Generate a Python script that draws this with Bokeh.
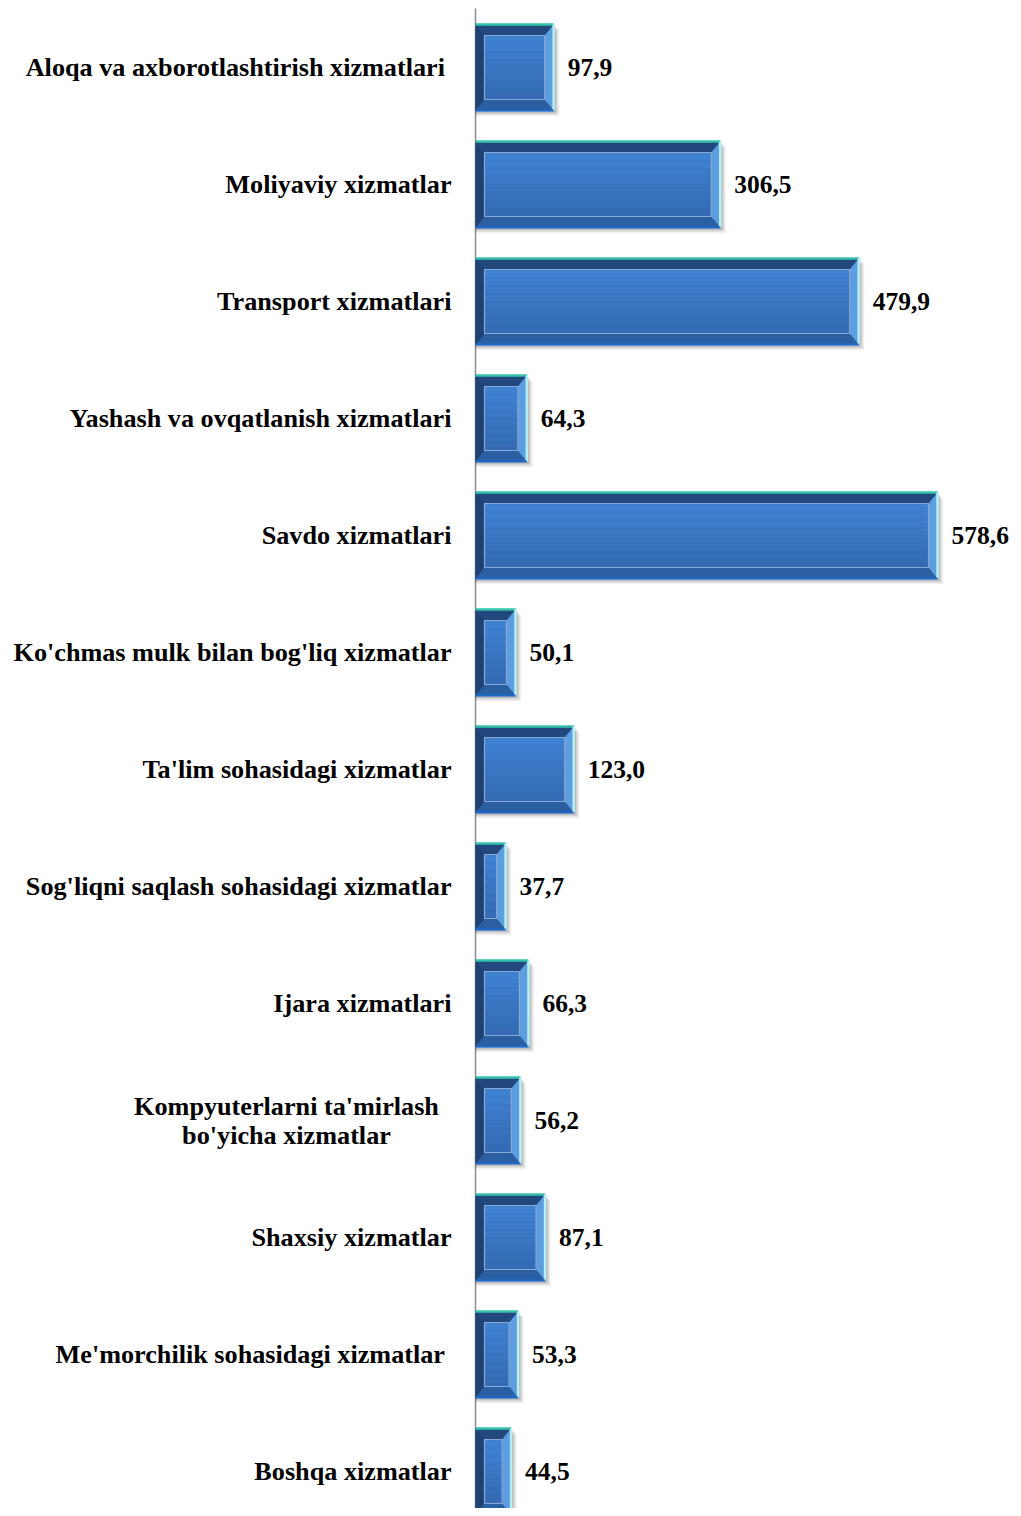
from bokeh.plotting import figure
from bokeh.models import Range1d, ColumnDataSource
from bokeh.core.properties import value
from bokeh.embed import file_html
from bokeh.resources import INLINE

categories = [
    "Aloqa va axborotlashtirish xizmatlari ",
    "Moliyaviy xizmatlar",
    "Transport xizmatlari",
    "Yashash va ovqatlanish xizmatlari",
    "Savdo xizmatlari",
    "Ko'chmas mulk bilan bog'liq xizmatlar",
    "Ta'lim sohasidagi xizmatlar",
    "Sog'liqni saqlash sohasidagi xizmatlar",
    "Ijara xizmatlari",
    "Kompyuterlarni ta'mirlash\nbo'yicha xizmatlar",
    "Shaxsiy xizmatlar",
    "Me'morchilik sohasidagi xizmatlar ",
    "Boshqa xizmatlar",
]
values = [97.9, 306.5, 479.9, 64.3, 578.6, 50.1, 123.0, 37.7, 66.3, 56.2, 87.1, 53.3, 44.5]
value_labels = ["97,9", "306,5", "479,9", "64,3", "578,6", "50,1", "123,0", "37,7", "66,3", "56,2", "87,1", "53,3", "44,5"]

# ---- layout / style ----
W, H = 1013, 1508
PX_X = 0.7985          # pixels per data unit (x)
PX_Y = 117.0           # pixels per category row
AXIS_PX = 475
TOP_PX = 67
BAR_H = 0.735
IX = 9 / PX_X          # bevel inset (x, data units)
IY = 11 / PX_Y         # bevel inset (y, data units)
FONT = value("Liberation Serif")
FS = "26.2px"
FS_VAL = "25.5px"
FACE_SHADES = ["#3e81d1", "#3d7ecd", "#3c7bc9", "#3a78c5", "#3975c1", "#3872bd", "#366fb9", "#356cb5"]

n = len(categories)
ys = list(range(n))

p = figure(width=W, height=H, output_backend="svg", toolbar_location=None,
           x_range=Range1d(-AXIS_PX / PX_X, (W - AXIS_PX) / PX_X),
           y_range=Range1d((H - TOP_PX) / PX_Y, -TOP_PX / PX_Y),
           min_border=0, outline_line_color=None)
p.xaxis.visible = False
p.yaxis.visible = False
p.xgrid.visible = False
p.ygrid.visible = False

# axis line
p.segment(x0=[0], x1=[0], y0=[-TOP_PX / PX_Y + 8 / PX_Y], y1=[(H - TOP_PX) / PX_Y],
          line_color="#8c8c8c", line_width=1.5)

# shadows
for k, a in [(1, 0.10), (2, 0.08), (3, 0.06), (4, 0.05), (5, 0.03)]:
    dx = (1 + k) / PX_X
    dy = (1 + k) / PX_Y
    p.quad(left=[0] * n, right=[v + dx for v in values],
           top=[y - BAR_H / 2 + dy for y in ys], bottom=[y + BAR_H / 2 + dy for y in ys],
           fill_color="black", fill_alpha=a, line_color=None)

# outer bars
p.hbar(y=ys, left=0, right=values, height=BAR_H, fill_color="#24508a", line_color=None)

# bevels
top_x, top_y, bot_x, bot_y, rx, ry, lx, ly = [], [], [], [], [], [], [], []
for v, y in zip(values, ys):
    t, b = y - BAR_H / 2, y + BAR_H / 2
    top_x.append([0, v, v - IX, IX]); top_y.append([t, t, t + IY, t + IY])
    bot_x.append([0, v, v - IX, IX]); bot_y.append([b, b, b - IY, b - IY])
    rx.append([v, v, v - IX, v - IX]); ry.append([t, b, b - IY, t + IY])
    lx.append([0, 0, IX, IX]); ly.append([t, b, b - IY, t + IY])
p.patches(top_x, top_y, fill_color="#22487d", line_color=None)
p.patches(bot_x, bot_y, fill_color="#2a5fa2", line_color=None)
p.patches(lx, ly, fill_color="#1f4275", line_color=None)
p.patches(rx, ry, fill_color="#5d9ee0", line_color=None)

# edge highlights
p.segment(x0=[0] * n, x1=values, y0=[y - BAR_H / 2 for y in ys], y1=[y - BAR_H / 2 for y in ys],
          line_color="#34c2ac", line_width=2.5)
p.segment(x0=values, x1=values, y0=[y - BAR_H / 2 for y in ys], y1=[y + BAR_H / 2 for y in ys],
          line_color="#b4f0f4", line_width=2.5)
p.segment(x0=[0] * n, x1=values, y0=[y + BAR_H / 2 for y in ys], y1=[y + BAR_H / 2 for y in ys],
          line_color="#1c6ad0", line_width=2)

# inner face (stepped vertical shading)
in_top = [y - BAR_H / 2 + IY for y in ys]
in_bot = [y + BAR_H / 2 - IY for y in ys]
nb = len(FACE_SHADES)
for j, col in enumerate(FACE_SHADES):
    p.quad(left=[IX] * n, right=[v - IX for v in values],
           top=[a + (b - a) * j / nb for a, b in zip(in_top, in_bot)],
           bottom=[a + (b - a) * (j + 1) / nb for a, b in zip(in_top, in_bot)],
           fill_color=col, line_color=col, line_width=0.5)
p.quad(left=[IX] * n, right=[v - IX for v in values], top=in_top, bottom=in_bot,
       fill_color=None, line_color="#8aa8d4", line_width=1.2)

# value labels
src = ColumnDataSource(dict(x=values, y=ys, t=value_labels))
p.text(x="x", y="y", text="t", source=src, x_offset=14, text_align="left",
       text_baseline="middle", text_font=FONT, text_font_style="bold",
       text_font_size=FS_VAL, text_color="black")

# category labels
single = [i for i, c in enumerate(categories) if "\n" not in c]
multi = [i for i, c in enumerate(categories) if "\n" in c]
p.text(x=[0] * len(single), y=[ys[i] for i in single], text=[categories[i] for i in single],
       x_offset=-24, text_align="right", text_baseline="middle", text_font=FONT,
       text_font_style="bold", text_font_size=FS, text_color="black")
p.text(x=[0] * len(multi), y=[ys[i] for i in multi], text=[categories[i] for i in multi],
       x_offset=-189, text_align="center", text_baseline="middle", text_font=FONT,
       text_font_style="bold", text_font_size=FS, text_color="black",
       text_line_height=1.0)

open("out.html", "w").write(file_html(p, INLINE))
